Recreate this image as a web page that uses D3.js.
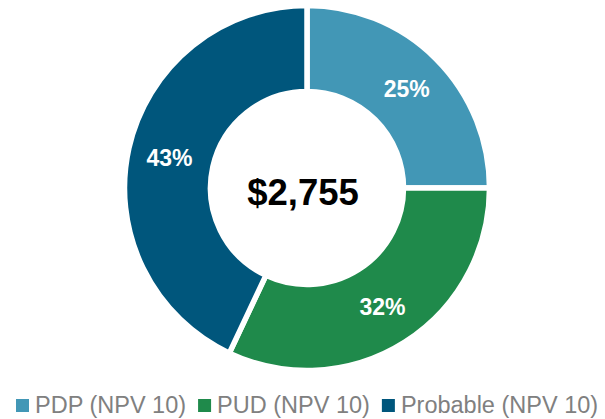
<!DOCTYPE html>
<html>
<head>
<meta charset="utf-8">
<script src="https://cdn.jsdelivr.net/npm/d3@7"></script>
<style>
  html, body { margin: 0; padding: 0; background: #fff; }
  svg { display: block; }
</style>
</head>
<body>
<svg id="chart" width="605" height="419"></svg>
<script>
const categories = ["PDP (NPV 10)", "PUD (NPV 10)", "Probable (NPV 10)"];
const shares = [25, 32, 43];
const colors = ["#4297B6", "#1F8A4B", "#00567C"];
const totalLabel = "$2,755";

const svg = d3.select("#chart");
const cx = 307, cy = 188;
const outerR = 182.5, innerR = 96.5;

const pie = d3.pie().sort(null).value(d => d.v);
const data = categories.map((c, i) => ({ c, v: shares[i], col: colors[i] }));
const arcs = pie(data);
const arc = d3.arc().innerRadius(innerR).outerRadius(outerR);
const labelArc = d3.arc().innerRadius(141).outerRadius(141);

const g = svg.append("g").attr("transform", `translate(${cx},${cy})`);
g.selectAll("path.slice").data(arcs).join("path")
  .attr("class", "slice")
  .attr("d", arc)
  .attr("fill", d => d.data.col)
  .attr("stroke", "#fff")
  .attr("stroke-width", 5.5)
  .attr("stroke-linejoin", "miter");

const total = d3.sum(shares);
g.selectAll("text.pct").data(arcs).join("text")
  .attr("class", "pct")
  .attr("transform", d => { const [x, y] = labelArc.centroid(d); return `translate(${x},${y})`; })
  .attr("text-anchor", "middle")
  .attr("dy", "0.36em")
  .attr("font-family", "Liberation Sans, Arial, sans-serif")
  .attr("font-weight", "bold")
  .attr("font-size", 23)
  .attr("fill", "#fff")
  .text(d => Math.round(d.data.v / total * 100) + "%");

svg.append("text")
  .attr("x", 303).attr("y", 205)
  .attr("text-anchor", "middle")
  .attr("font-family", "Liberation Sans, Arial, sans-serif")
  .attr("font-weight", "bold")
  .attr("font-size", 36.5)
  .attr("fill", "#000")
  .text(totalLabel);

// Legend
const legend = svg.append("g");
const items = legend.selectAll("g.item").data(data).join("g").attr("class", "item");
items.append("rect")
  .attr("width", 13).attr("height", 13)
  .attr("y", 399)
  .attr("fill", d => d.col);
items.append("text")
  .attr("y", 413)
  .attr("x", 19)
  .attr("font-family", "Liberation Sans, Arial, sans-serif")
  .attr("font-size", 23.5)
  .attr("fill", "#808080")
  .text(d => d.c);
let x = 16;
items.each(function() {
  const t = d3.select(this).select("text").node().getComputedTextLength();
  d3.select(this).attr("transform", `translate(${x},0)`);
  x += 19 + t + 12;
});
</script>
</body>
</html>
